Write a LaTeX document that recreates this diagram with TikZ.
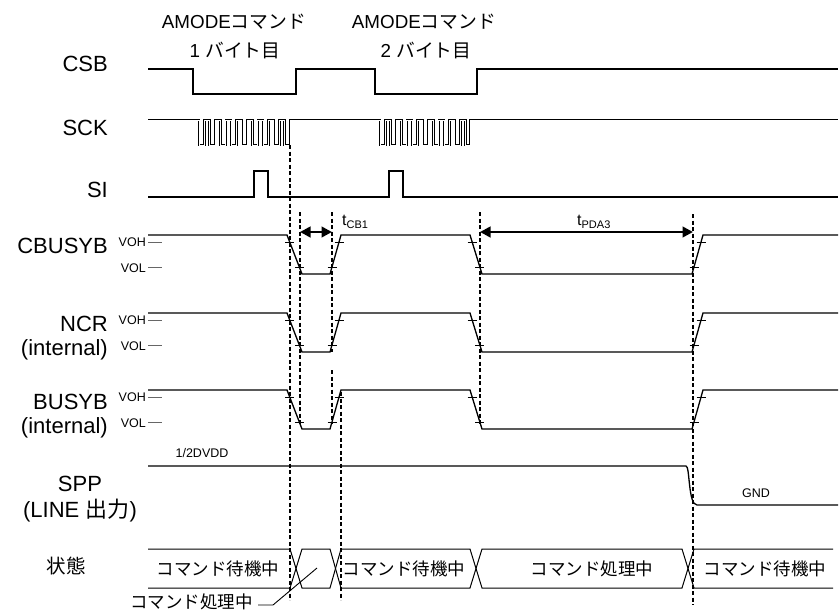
\documentclass[tikz,border=0pt]{standalone}
\usepackage{fontspec}
\setmainfont{Liberation Sans}
\newfontfamily\jp{Noto Sans CJK JP}
\usetikzlibrary{arrows.meta}
\begin{document}
\begin{tikzpicture}[x=1pt,y=-1pt,
  sig/.style={line width=1.3pt, line join=miter},
  stsig/.style={line width=1pt},
  clk/.style={line width=0.75pt, double=white, double distance=1pt},
  guide/.style={line width=1.2pt, dash pattern=on 4pt off 2.5pt},
  tck/.style={line width=0.9pt},
  reftick/.style={line width=0.9pt, draw=black!60},
  lbl/.style={font=\fontsize{22}{24}\selectfont, anchor=east, align=right, inner sep=0pt},
  small/.style={font=\fontsize{12.5}{14}\selectfont, inner sep=0pt},
  jpt/.style={font=\fontsize{17.5}{20}\selectfont\jp, inner sep=0pt},
  ttl/.style={font=\fontsize{18.8}{20}\selectfont, inner sep=0pt},
  meas/.style={line width=2.8pt, {Triangle[length=10.5pt,width=10.5pt]}-{Triangle[length=10.5pt,width=10.5pt]}},
]
\useasboundingbox (0,0) rectangle (840,613);

% titles
\node[ttl] (t1a) at (234,22) {AMODE{\jp コマンド}};
\node[ttl] (t1b) at (235,50) {1 {\jp バイト目}};
\node[ttl] (t2a) at (424,22) {AMODE{\jp コマンド}};
\node[ttl] (t2b) at (426,50) {2 {\jp バイト目}};

% signal names
\node[lbl] (csb) at (108,64) {CSB};
\node[lbl] (sck) at (108,128) {SCK};
\node[lbl] (si) at (108,190) {SI};
\node[lbl] (cbusyb) at (108,246) {CBUSYB};
\node[lbl] (ncr) at (108,338) {NCR\\(internal)};
\node[lbl] (busyb) at (108,416) {BUSYB\\(internal)};
\node[font=\fontsize{22}{26}\selectfont, align=center, inner sep=0pt] (spp) at (80,499) {SPP\\(LINE {\jp 出力})};
\node[font=\fontsize{19.5}{22}\selectfont\jp, inner sep=0pt] (state) at (66,566) {状態};

% CSB
\draw[sig] (148,69) -- (193,69) -- (193,94) -- (296,94) -- (296,69) -- (375,69) -- (375,94) -- (477,94) -- (477,69) -- (838,69);

% SCK
\draw[clk] (148,120) -- (199,120) -- (199,145)
  \foreach \i in {1,...,8} { -- ++(5.35,0) -- ++(0,-25) -- ++(5.35,0) -- ++(0,25) }
  -- (290,145) -- (290,120) -- (380,120) -- (380,145)
  \foreach \i in {1,...,8} { -- ++(5.35,0) -- ++(0,-25) -- ++(5.35,0) -- ++(0,25) }
  -- (470,145) -- (470,120) -- (838,120);

% SI
\draw[sig] (148,197) -- (254,197) -- (254,171) -- (268,171) -- (268,197) -- (389,197) -- (389,171) -- (403,171) -- (403,197) -- (838,197);

% CBUSYB, NCR, BUSYB
\foreach \H in {235,313,390} {
  \draw[sig] (148,\H) -- (287,\H) -- (302,\H+39) -- (330,\H+39) -- (341,\H) -- (470,\H) -- (482,\H+39) -- (692,\H+39) -- (703,\H) -- (838,\H);
  \foreach \x/\d in {289.7/7, 299.3/32, 332/32, 339/7, 472.2/7, 479.8/32, 694/32, 701/7}
    \draw[tck] (\x,\H) ++(-4.5,\d) -- ++(9,0);
  \draw[reftick] (148,\H+7) -- (162,\H+7);
  \draw[reftick] (148,\H+32) -- (162,\H+32);
  \node[small, anchor=east] at (146,\H+7.5) {VOH};
  \node[small, anchor=east] at (146,\H+33) {VOL};
}

% guides
\draw[guide] (290,145) -- (290,600);
\draw[guide] (300,212) -- (300,424);
\draw[guide] (332,212) -- (332,352);
\draw[guide] (332,370) -- (332,424);
\draw[guide] (341,392) -- (341,600);
\draw[guide] (480,212) -- (480,424);
\draw[guide] (693,214) -- (693,605);

% measurements
\coordinate (m1a) at (300,232);
\coordinate (m1b) at (332,232);
\coordinate (m2a) at (480,232);
\coordinate (m2b) at (693,232);
\draw[meas] (m1a) -- (m1b);
\draw[meas] (m2a) -- (m2b);
\node[anchor=base west, inner sep=0pt, font=\fontsize{16}{18}\selectfont] (tcb) at (342,225) {t\raisebox{-3pt}{\fontsize{11}{12}\selectfont CB1}};
\node[anchor=base west, inner sep=0pt, font=\fontsize{16}{18}\selectfont] (tpda) at (577,225) {t\raisebox{-3pt}{\fontsize{11}{12}\selectfont PDA3}};

% SPP
\node[small] (vdd) at (202,453) {1/2DVDD};
\draw[sig] (148,466) -- (686,466) .. controls (690,466) and (688,505) .. (697,505) -- (838,505);
\node[small] (gnd) at (756,493) {GND};

% state row
\draw[stsig] (148,549) -- (290,549) -- (302,588) -- (330,588) -- (341,549) -- (470,549) -- (482,588) -- (682,588) -- (694,549) -- (833,549);
\draw[stsig] (148,588) -- (290,588) -- (302,549) -- (330,549) -- (341,588) -- (470,588) -- (482,549) -- (682,549) -- (694,588) -- (833,588);
\node[jpt] (s1) at (218,569) {コマンド待機中};
\node[jpt] (s3) at (404,569) {コマンド待機中};
\node[jpt] (s4) at (592,569) {コマンド処理中};
\node[jpt] (s5) at (765,569) {コマンド待機中};

% annotation
\node[jpt, anchor=east] (anno) at (253,602) {コマンド処理中};
\coordinate (leadA) at (258,605);
\coordinate (leadB) at (273,605);
\coordinate (leadC) at (317,568);
\draw[line width=0.9pt] (leadA) -- (leadB) -- (leadC);
\end{tikzpicture}
\end{document}
